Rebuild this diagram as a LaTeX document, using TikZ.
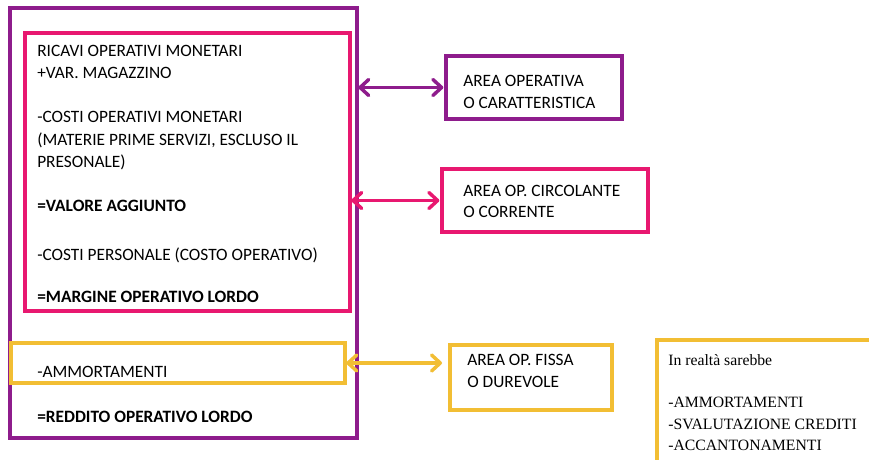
\documentclass[tikz,border=0pt]{standalone}
\usepackage{fontspec}
\setmainfont{Carlito}
\newfontfamily\notefont{Liberation Serif}
\usetikzlibrary{arrows.meta}
\definecolor{purp}{RGB}{142,28,140}
\definecolor{pinkc}{RGB}{232,24,112}
\definecolor{yel}{RGB}{242,190,52}
\tikzset{
  box/.style={draw, line width=2.6pt, inner sep=0pt, outer sep=0pt, anchor=north west},
  txt/.style={anchor=base west, inner sep=0pt, font=\fontsize{13pt}{15pt}\selectfont},
  ntxt/.style={anchor=base west, inner sep=0pt, font=\notefont\fontsize{11.8pt}{14pt}\selectfont},
  arr/.style={line width=2.6pt, {Straight Barb[length=6.5pt,width=12pt,line cap=round,line join=round]}-{Straight Barb[length=6.5pt,width=12pt,line cap=round,line join=round]}}
}
\begin{document}
\begin{tikzpicture}[x=0.75pt,y=-0.75pt]
\clip (0,0) rectangle (869,460);
\fill[white] (0,0) rectangle (869,460);
% boxes
\node[box, purp, minimum width=260.25pt, minimum height=322.5pt] (outer) at (10,8) {};
\node[box, pinkc, minimum width=243.75pt, minimum height=208.5pt] (pink) at (25,33) {};
\node[box, yel, minimum width=250.5pt, minimum height=30pt] (ybox) at (11,343) {};
\node[box, purp, minimum width=132pt, minimum height=47.25pt] (area1) at (446,56) {};
\node[box, pinkc, minimum width=154.5pt, minimum height=47.25pt] (area2) at (442,169) {};
\node[box, yel, minimum width=121.5pt, minimum height=48.75pt] (area3) at (450,345) {};
\node[box, yel, minimum width=163.5pt, minimum height=93.75pt] (note) at (657,340) {};
% left texts
\node[txt] (t1) at (37,57) {RICAVI OPERATIVI MONETARI};
\node[txt] (t2) at (37,79) {+VAR. MAGAZZINO};
\node[txt] (t3) at (37,123) {-COSTI OPERATIVI MONETARI};
\node[txt] (t4) at (37,146) {(MATERIE PRIME SERVIZI, ESCLUSO IL};
\node[txt] (t5) at (37,168) {PRESONALE)};
\node[txt] (t6) at (37,212) {\bfseries =VALORE AGGIUNTO};
\node[txt] (t7) at (37,260) {-COSTI PERSONALE (COSTO OPERATIVO)};
\node[txt] (t8) at (37,302) {\bfseries =MARGINE OPERATIVO LORDO};
\node[txt] (t9) at (37,377) {-AMMORTAMENTI};
\node[txt] (t10) at (37,422) {\bfseries =REDDITO OPERATIVO LORDO};
% right texts
\node[txt] (a1) at (463,86.5) {AREA OPERATIVA};
\node[txt] (a2) at (463,108.5) {O CARATTERISTICA};
\node[txt] (b1) at (463,196.5) {AREA OP. CIRCOLANTE};
\node[txt] (b2) at (463,218) {O CORRENTE};
\node[txt] (c1) at (467,365.5) {AREA OP. FISSA};
\node[txt] (c2) at (467,387) {O DUREVOLE};
\node[ntxt] (n1) at (668,365) {In realtà sarebbe};
\node[ntxt] (n2) at (668,407) {-AMMORTAMENTI};
\node[ntxt] (n3) at (668,429) {-SVALUTAZIONE CREDITI};
\node[ntxt] (n4) at (668,450) {-ACCANTONAMENTI};
% arrows
\draw[arr, purp] ([xshift=1pt]outer.east |- area1.west) -- ([xshift=-2pt]area1.west);
\draw[arr, pinkc] ([xshift=1pt]pink.east |- area2.west) -- ([xshift=-2pt]area2.west);
\draw[arr, yel] ([xshift=1pt]ybox.east) -- ([xshift=-6pt]area3.west |- ybox.east);
\end{tikzpicture}
\end{document}
